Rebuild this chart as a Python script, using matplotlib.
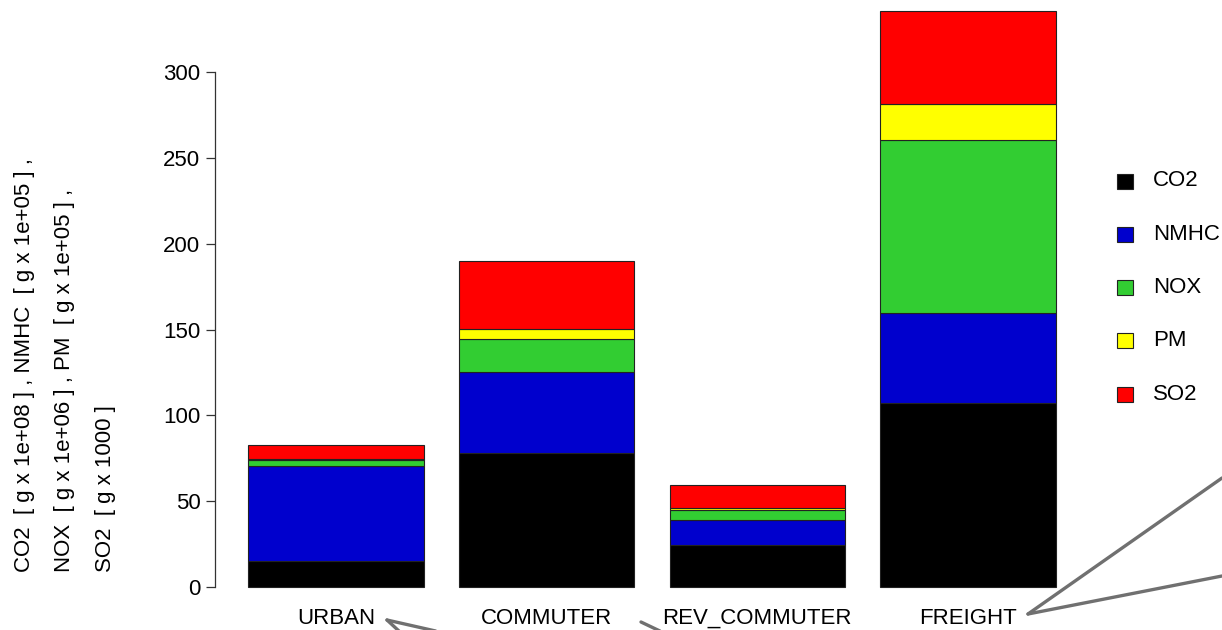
import matplotlib

matplotlib.use("Agg")
import matplotlib.pyplot as plt
from matplotlib.lines import Line2D
from matplotlib.patches import Rectangle

plt.rcParams["font.family"] = ["Liberation Sans", "DejaVu Sans"]

routes = ["URBAN", "COMMUTER", "REV_COMMUTER", "FREIGHT"]
pollutants = ["CO2", "NMHC", "NOX", "PM", "SO2"]
co2 = [15.1, 78.3, 24.4, 107.0]
nmhc = [55.2, 46.9, 14.7, 52.9]
nox = [3.6, 19.4, 5.8, 100.6]
pm = [0.8, 6.0, 1.3, 21.3]
so2 = [7.9, 39.7, 13.1, 53.8]
colors = ["#000000", "#0000CD", "#32CD32", "#FFFF00", "#FF0000"]
y_ticks = [0, 50, 100, 150, 200, 250, 300]
y_label_lines = [
    "CO2  [ g x 1e+08 ] , NMHC  [ g x 1e+05 ] ,",
    "NOX  [ g x 1e+06 ] , PM  [ g x 1e+05 ] ,",
    "SO2  [ g x 1000 ]",
]

FS = 16
W, H = 1222, 630
fig = plt.figure(figsize=(W / 100, H / 100), dpi=100)

# barplot layout: bar width 1, gap 0.2, 175.5 px per unit
px_per_x = 175.5
x_lo, x_hi = 0.01, 5.0
y_lo, y_hi = 0.0, 340.0
px_per_y = (587 - 72.3) / 300
ax_left = 215
ax_bottom = H - 587
ax = fig.add_axes([
    ax_left / W,
    ax_bottom / H,
    (x_hi - x_lo) * px_per_x / W,
    (y_hi - y_lo) * px_per_y / H,
])
ax.set_xlim(x_lo, x_hi)
ax.set_ylim(y_lo, y_hi)

centers = [0.7 + 1.2 * i for i in range(len(routes))]
bottom = [0.0] * len(routes)
for name, values, color in zip(pollutants, [co2, nmhc, nox, pm, so2], colors):
    ax.bar(centers, values, width=1.0, bottom=bottom, color=color,
           edgecolor="#222222", linewidth=0.8, label=name, clip_on=False)
    bottom = [b + v for b, v in zip(bottom, values)]

for side in ["top", "right", "bottom"]:
    ax.spines[side].set_visible(False)
ax.spines["left"].set_bounds(0, 300)
ax.spines["left"].set_color("#333333")
ax.spines["left"].set_linewidth(0.9)
ax.set_yticks(y_ticks)
ax.set_yticklabels([str(t) for t in y_ticks])
ax.tick_params(axis="y", length=6.5, width=0.9, color="#333333",
               labelsize=FS, pad=4)
ax.set_xticks(centers)
ax.set_xticklabels(routes)
ax.tick_params(axis="x", length=0, labelsize=FS, pad=15)

# stacked y label, three rotated lines
for i, line in enumerate(y_label_lines):
    fig.text((25 + 40 * i) / W, (H - 572) / H, line, rotation=90,
             ha="center", va="bottom", fontsize=FS)

# legend on the right
for i, (name, color) in enumerate(zip(pollutants, colors)):
    yc = 181 + 53.3 * i
    fig.add_artist(Rectangle(((1117) / W, (H - yc - 7.5) / H), 16 / W, 15 / H,
                             transform=fig.transFigure, facecolor=color,
                             edgecolor="#222222", linewidth=0.8))
    fig.text(1153 / W, (H - yc) / H, name, ha="left", va="center",
             fontsize=FS)

# gray callout pointers
pointers = [
    ((1028, 614), (1222, 478)),
    ((1028, 614), (1222, 576)),
    ((387, 620), (440, 632)),
    ((387, 620), (400, 632)),
    ((641, 622), (662, 632)),
]
for (x0, y0), (x1, y1) in pointers:
    fig.add_artist(Line2D([x0 / W, x1 / W], [(H - y0) / H, (H - y1) / H],
                          transform=fig.transFigure, color="#707070",
                          linewidth=2.4, solid_capstyle="round"))

fig.savefig("out.png", dpi=100)
